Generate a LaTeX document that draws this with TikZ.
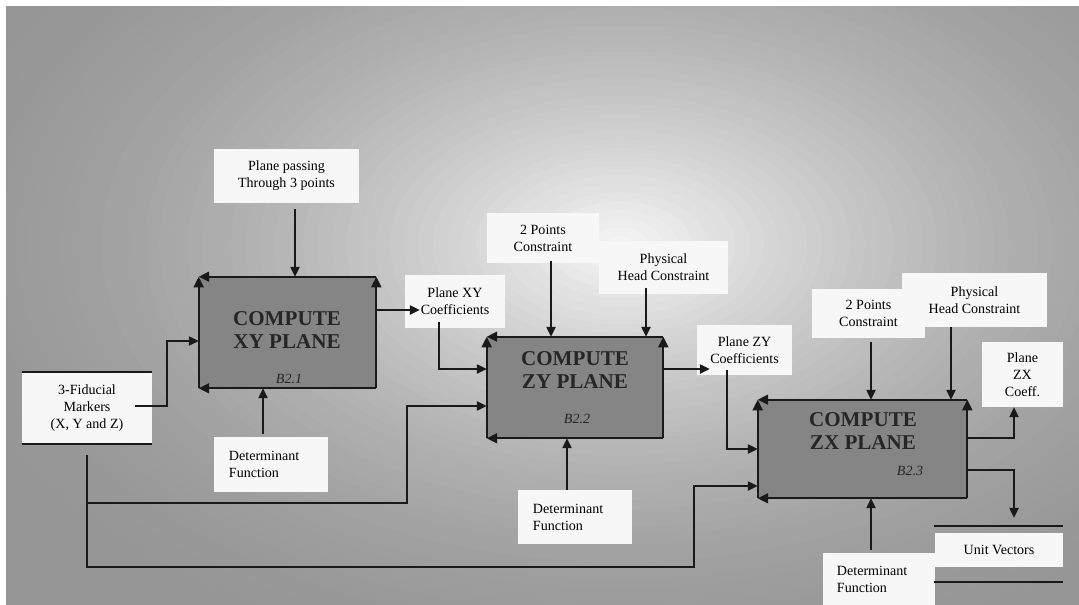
\documentclass[tikz,border=0pt]{standalone}
\usepackage{fontspec}
\setmainfont{Liberation Serif}
\usepackage{tikz}
\usetikzlibrary{arrows.meta, positioning, calc}
\tikzset{
    arrow/.style={-{Triangle[length=7pt,width=6.5pt]}, line width=1.2pt, draw=black!90},
    edge/.style={-{Triangle[length=7.5pt,width=7pt]}, line width=1.6pt, draw=black!90},
    store/.style={line width=1.4pt, draw=black!90}
}

\begin{document}
\begin{tikzpicture}[x=0.025cm, y=-0.025cm]

        % -----------------------------------------------------------------
        % STILI DEI NODI
        % -----------------------------------------------------------------
        \tikzset{
            lbl/.style={fill=black!3, inner sep=0pt, align=center, font=\fontsize{10}{12}\selectfont},
            lbl_left/.style={lbl, align=left, text width=2.1cm},
            blocco/.style={fill=black!48, inner sep=0pt},
            titolo/.style={font=\fontsize{15}{17}\selectfont\bfseries, text=black!85, align=center},
            sigla/.style={font=\fontsize{10}{12}\selectfont\itshape, text=black!85}
        }

        % Sfondo sfumato
        \useasboundingbox (0,0) rectangle (1079,605);
        \fill[white] (0,0) rectangle (1079,605);
        \begin{scope}
            \clip (6,6) rectangle (1079,605);
            \fill[black!41] (6,6) rectangle (1079,605);
            \foreach \i in {1,...,50} {
                \pgfmathsetmacro\rr{1-\i/50}
                \pgfmathsetmacro\cc{41-38*(\i/50)^1.7}
                \fill[black!\cc] (620,245) ellipse [x radius=\rr*720, y radius=\rr*440];
            }
        \end{scope}

        % =================================================================
        % BLOCCO B2.1
        % =================================================================
        \node (pp) [lbl, minimum width=3.625cm, minimum height=1.35cm] at (286.5,176) {Plane passing\\Through 3 points};
        \node (mk) [lbl, minimum width=3.25cm, minimum height=1.8cm] at (87,408) {3-Fiducial\\Markers\\(X, Y and Z)};
        \node (det1) [lbl_left, minimum width=2.85cm, minimum height=1.375cm] at (271,464.5) {Determinant\\Function};
        \draw[store] (mk.north west) -- (mk.north east);
        \draw[store] (mk.south west) -- (mk.south east);

        \node (b1) [blocco, minimum width=4.425cm, minimum height=2.775cm] at (287.5,332.5) {};
        \node (t1) [titolo] at (287,330) {COMPUTE\\XY PLANE};
        \node (s1) [sigla] at (289,379) {B2.1};

        % =================================================================
        % BLOCCO B2.2
        % =================================================================
        \node (xyc) [lbl, minimum width=2.5cm, minimum height=1.325cm] at (455,301.5) {Plane XY\\Coefficients};
        \node (tp2) [lbl, minimum width=2.8cm, minimum height=1.25cm] at (543,238) {2 Points\\Constraint};
        \node (ph2) [lbl, minimum width=3.225cm, minimum height=1.325cm] at (663.5,267.5) {Physical\\Head Constraint};
        \node (det2) [lbl_left, minimum width=2.85cm, minimum height=1.35cm] at (575,517) {Determinant\\Function};

        \node (b2) [blocco, minimum width=4.4cm, minimum height=2.525cm] at (575,387.5) {};
        \node (t2) [titolo] at (575,370) {COMPUTE\\ZY PLANE};
        \node (s2) [sigla] at (577,419) {B2.2};

        % =================================================================
        % BLOCCO B2.3
        % =================================================================
        \node (zyc) [lbl, minimum width=2.375cm, minimum height=1.25cm] at (744.5,350) {Plane ZY\\Coefficients};
        \node (tp3) [lbl, minimum width=2.825cm, minimum height=1.225cm] at (868.5,313.5) {2 Points\\Constraint};
        \node (ph3) [lbl, minimum width=3.625cm, minimum height=1.35cm] at (974.5,300) {Physical\\Head Constraint};
        \node (zxc) [lbl, minimum width=2.025cm, minimum height=1.625cm] at (1022.5,374.5) {Plane\\ZX\\Coeff.};
        \node (det3) [lbl_left, minimum width=2.8cm, minimum height=1.3cm] at (879,579) {Determinant\\Function};
        \node (uv) [lbl, minimum width=3.2cm, minimum height=0.85cm] at (999,550) {Unit Vectors};
        \draw[store] ($(uv.north west)+(-1,-7)$) -- ($(uv.north east)+(0,-7)$);
        \draw[store] ($(uv.south west)+(-1,15)$) -- ($(uv.south east)+(0,15)$);

        \node (b3) [blocco, minimum width=5.225cm, minimum height=2.45cm] at (862.5,449) {};
        \node (t3) [titolo] at (863,431) {COMPUTE\\ZX PLANE};
        \node (s3) [sigla] at (910,471) {B2.3};

        % Bordi dei blocchi
        \foreach \b in {b1,b2,b3} {
            \draw[edge] (\b.south west) -- (\b.north west);
            \draw[edge] (\b.north east) -- (\b.north west);
            \draw[edge] (\b.south east) -- (\b.north east);
            \draw[edge] (\b.south east) -- (\b.south west);
        }

        % -----------------------------------------------------------------
        % CONNESSIONI
        % -----------------------------------------------------------------
        \draw[arrow] ([shift={(8.5,6)}]pp.south) coordinate (pp_out) -- (pp_out |- b1.north);
        \draw[arrow] ([shift={(-17,-2)}]mk.east) -- ++(32,0) |- ([shift={(0,8.5)}]b1.west);
        \draw[arrow] ([shift={(-8,-3)}]det1.north) coordinate (d1_out) -- (d1_out |- b1.south);

        \draw[arrow] ([shift={(0,-22.5)}]b1.east) coordinate (b1_out) -- ($(b1_out -| xyc.west)+(15,0)$);
        \draw[arrow] ([shift={(-16,-6)}]xyc.south) |- ([shift={(0,-18.5)}]b2.west);
        \draw[arrow] ([shift={(8,-2)}]tp2.south) coordinate (tp2_out) -- (tp2_out |- b2.north);
        \draw[arrow] ([shift={(-17.5,-6)}]ph2.south) coordinate (ph2_out) -- (ph2_out |- b2.north);
        \draw[arrow] ([shift={(-8,0)}]det2.north) coordinate (d2_out) -- (d2_out |- b2.south);

        \draw[arrow] ([shift={(0,-18.5)}]b2.east) coordinate (b2_out) -- ($(b2_out -| zyc.west)+(13,0)$);
        \draw[arrow] ([shift={(-17.5,-5)}]zyc.south) |- (b3.west);
        \draw[arrow] ([shift={(2.5,4)}]tp3.south) coordinate (tp3_out) -- (tp3_out |- b3.north);
        \draw[arrow] ([shift={(-23.5,0)}]ph3.south) coordinate (ph3_out) -- (ph3_out |- b3.north);
        \draw[arrow] ([shift={(-8,-3)}]det3.north) coordinate (d3_out) -- (d3_out |- b3.south);

        \draw[arrow] ([shift={(0,-11)}]b3.east) -| ([shift={(-8.5,0)}]zxc.south);
        \draw[arrow] ([shift={(0,21)}]b3.east) -| ([shift={(15,-15)}]uv.north);

        % Linee dai marker
        \coordinate (mk_out) at ([shift={(0,11)}]mk.south);
        \coordinate (bus1) at (407,503);
        \coordinate (bus2) at (694,567);
        \draw[arrow] (mk_out) |- (bus1) |- ([shift={(0,18.5)}]b2.west);
        \draw[arrow] (mk_out) |- (bus2) |- ([shift={(0,37)}]b3.west);

\end{tikzpicture}
\end{document}
